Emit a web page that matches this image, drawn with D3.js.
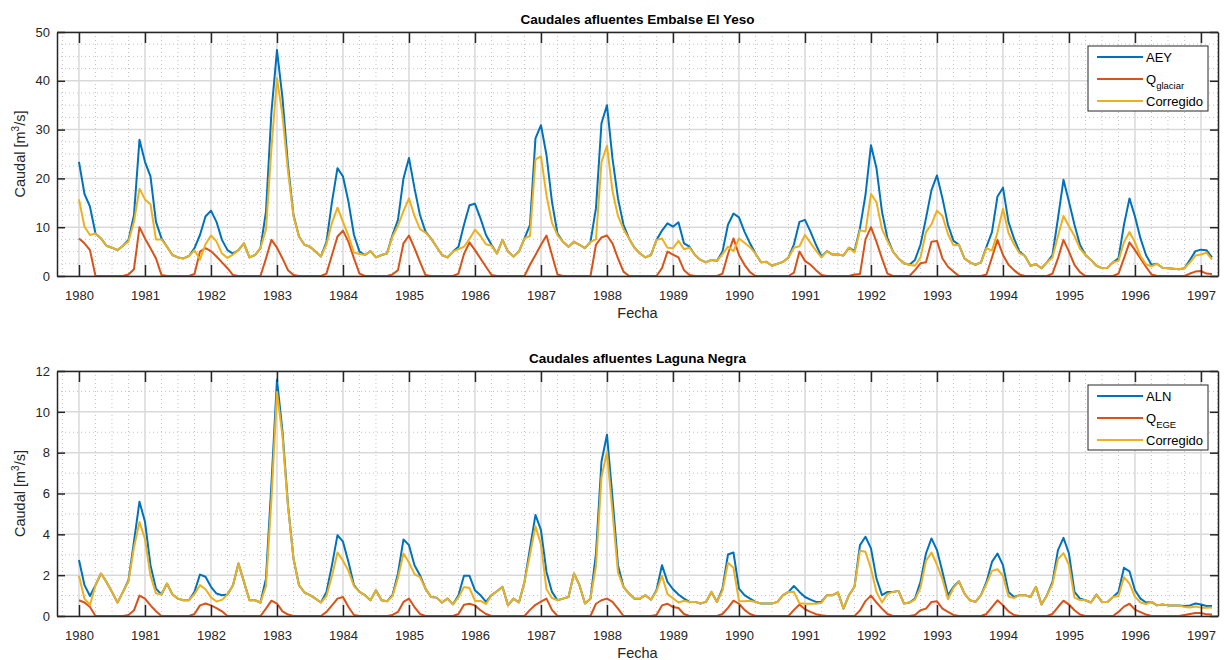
<!DOCTYPE html>
<html lang="es">
<head>
<meta charset="UTF-8">
<title>Caudales afluentes</title>
<script src="https://cdn.jsdelivr.net/npm/d3@7"></script>
<style>
  * { margin: 0; padding: 0; }
  body { background: #fff; }
  text { font-family: "Liberation Sans", Arial, Helvetica, sans-serif; }
</style>
</head>
<body>
<script>
// monthly series, Jan 1980 .. Mar 1997
const startYear = 1980;
const yearTicks = d3.range(1980, 1998);

const aey = [
  23.4,16.8,14.2,8.7,7.7,6.2,5.8,5.3,6.2,7.4,12.5,27.9,
  23.4,20.4,11.1,7.7,6.0,4.3,3.8,3.6,4.1,5.7,8.4,12.2,
  13.4,11.1,7.4,5.3,4.6,5.3,6.7,3.8,4.3,5.7,13.2,33.7,
  46.3,36.5,22.7,12.5,8.1,6.4,6.0,5.0,4.0,7.0,15.2,22.1,
  20.4,15.2,8.4,5.0,4.3,5.1,3.8,4.3,4.6,8.4,11.5,20.0,
  24.2,18.0,12.5,9.1,7.7,6.0,4.3,3.8,5.0,6.0,10.5,14.5,
  14.8,11.8,8.4,6.4,4.6,7.4,5.0,4.0,5.0,7.7,10.5,28.2,
  30.9,24.8,15.2,8.7,7.0,6.0,7.0,6.4,5.7,7.0,13.9,31.3,
  35.0,24.1,15.9,10.5,7.7,5.8,4.6,3.8,4.3,7.4,9.3,10.8,
  10.1,11.0,6.7,6.0,4.3,3.3,2.8,3.3,3.1,5.0,10.5,12.8,
  12.0,9.1,6.7,4.6,2.8,2.9,2.1,2.5,2.9,3.8,6.5,11.1,
  11.5,9.1,6.4,4.0,5.1,4.4,4.4,4.2,5.8,5.1,9.8,16.6,
  26.8,22.1,13.2,7.7,5.0,3.6,2.6,2.3,3.3,6.4,11.8,17.6,
  20.6,15.9,10.5,7.2,6.4,3.6,2.8,2.3,2.8,6.0,9.0,16.3,
  18.1,11.1,7.7,5.0,4.1,2.1,2.4,1.6,2.8,4.3,11.8,19.7,
  15.2,10.5,6.4,4.3,3.3,2.1,1.6,1.7,2.8,3.6,10.5,15.9,
  12.2,7.7,4.3,2.3,2.5,1.7,1.6,1.5,1.4,1.6,3.3,5.1,
  5.4,5.3,3.8
];
const qGlaciar = [
  7.7,6.7,5.3,0,0,0,0,0,0,0.3,1.4,10.0,
  7.7,5.7,3.6,0.2,0,0,0,0,0,0.4,5.0,5.7,
  5.1,4.0,2.8,1.6,0.2,0,0,0,0,0,3.6,7.4,
  5.8,3.6,1.2,0.2,0,0,0,0,0,0.5,4.3,8.1,
  9.3,7.0,3.6,0.5,0,0,0,0,0,0.3,1.2,6.7,
  8.3,5.7,2.9,0.2,0,0,0,0,0,0.5,4.5,6.9,
  5.3,3.6,1.9,0.2,0,0,0,0,0,0,2.3,4.3,
  6.4,8.3,4.3,0.3,0,0,0,0,0,0,6.4,7.9,
  8.3,6.7,3.6,0.9,0,0,0,0,0,0,1.6,5.0,
  4.4,3.8,1.2,0.2,0,0,0,0,0,0.5,4.5,7.7,
  4.3,2.3,0.8,0,0,0,0,0,0,0,0.7,5.0,
  3.1,2.3,1.2,0.2,0,0,0,0,0,0.3,0.4,7.5,
  10.0,7.0,3.6,0.5,0,0,0,0,1.2,2.6,2.8,7.0,
  7.2,3.6,1.9,0.9,0,0,0,0,0,0.3,3.8,7.4,
  4.3,2.3,1.2,0.3,0,0,0,0,0,0.5,3.6,7.4,
  5.0,2.3,0.8,0,0,0,0,0,0,0.5,3.6,6.9,
  5.3,3.6,1.9,0.3,0,0,0,0,0,0,0.5,0.9,
  1.0,0.5,0.4
];
const corrYeso = [
  15.7,10.1,8.4,8.7,7.7,6.2,5.8,5.3,6.2,7.1,11.1,17.9,
  15.7,14.7,7.5,7.5,6.0,4.3,3.8,3.6,4.1,5.3,3.4,6.5,
  8.3,7.1,4.6,3.7,4.4,5.3,6.7,3.8,4.3,5.7,9.6,26.3,
  40.5,32.9,21.5,12.3,8.1,6.4,6.0,5.0,4.0,6.5,10.9,14.0,
  11.1,8.2,4.8,4.5,4.3,5.1,3.8,4.3,4.6,8.1,10.3,13.3,
  15.9,12.3,9.6,8.9,7.7,6.0,4.3,3.8,5.0,5.5,6.0,7.6,
  9.5,8.2,6.5,6.2,4.6,7.4,5.0,4.0,5.0,7.7,8.2,23.9,
  24.5,16.5,10.9,8.4,7.0,6.0,7.0,6.4,5.7,7.0,7.5,23.4,
  26.7,17.4,12.3,9.6,7.7,5.8,4.6,3.8,4.3,7.4,7.7,5.8,
  5.7,7.2,5.5,5.8,4.3,3.3,2.8,3.3,3.1,4.5,6.0,5.1,
  7.7,6.8,5.9,4.6,2.8,2.9,2.1,2.5,2.9,3.8,5.8,6.1,
  8.4,6.8,5.2,3.8,5.1,4.4,4.4,4.2,5.8,4.8,9.4,9.1,
  16.8,15.1,9.6,7.2,5.0,3.6,2.6,2.3,2.1,3.8,9.0,10.6,
  13.4,12.3,8.6,6.3,6.4,3.6,2.8,2.3,2.8,5.7,5.2,8.9,
  13.8,8.8,6.5,4.7,4.1,2.1,2.4,1.6,2.8,3.8,8.2,12.3,
  10.2,8.2,5.6,4.3,3.3,2.1,1.6,1.7,2.8,3.1,6.9,9.0,
  6.9,4.1,2.4,2.0,2.5,1.7,1.6,1.5,1.4,1.6,2.8,4.2,
  4.4,4.8,3.4
];

const aln = [
  2.74,1.51,0.98,1.51,2.08,1.67,1.18,0.66,1.18,1.75,3.64,5.60,
  4.62,2.49,1.34,1.05,1.59,1.05,0.85,0.77,0.77,1.18,2.03,1.92,
  1.43,1.10,1.02,1.05,1.51,2.57,1.67,0.77,0.77,0.66,1.83,6.50,
  11.58,9.04,5.44,2.82,1.51,1.15,1.02,0.85,0.66,1.18,2.49,3.96,
  3.64,2.65,1.51,1.18,1.02,0.77,1.26,0.77,0.72,1.02,2.08,3.75,
  3.47,2.49,2.00,1.34,0.93,0.90,0.66,0.85,0.57,1.02,1.97,1.97,
  1.26,1.02,0.69,1.02,1.21,1.43,0.52,0.85,0.66,1.67,3.31,4.95,
  4.21,2.16,1.18,0.77,0.85,0.93,2.08,1.51,0.61,0.85,3.06,7.57,
  8.88,5.80,2.49,1.43,1.10,0.85,0.85,1.02,0.80,1.26,2.49,1.67,
  1.31,1.05,0.85,0.69,0.69,0.61,0.69,1.18,0.69,1.34,3.01,3.11,
  1.34,1.02,0.85,0.69,0.61,0.61,0.61,0.69,1.02,1.18,1.47,1.18,
  0.93,0.80,0.69,0.69,1.02,1.02,1.15,0.36,1.02,1.43,3.47,3.88,
  3.31,1.83,1.02,1.18,1.18,1.23,0.61,0.66,0.85,1.67,3.06,3.80,
  3.23,2.16,1.02,1.43,1.70,1.10,0.77,0.69,1.02,1.67,2.65,3.06,
  2.49,1.18,0.93,1.02,1.02,0.93,1.43,0.56,1.02,1.67,3.23,3.83,
  3.06,1.18,0.85,0.77,0.66,1.05,0.69,0.69,0.93,1.18,2.36,2.19,
  1.26,0.85,0.66,0.69,0.52,0.56,0.52,0.52,0.52,0.49,0.52,0.61,
  0.56,0.49,0.49
];
const qEge = [
  0.77,0.66,0.44,0,0,0,0,0,0,0.05,0.28,1.00,
  0.85,0.52,0.23,0,0,0,0,0,0,0.10,0.52,0.61,
  0.52,0.39,0.23,0,0,0,0,0,0,0,0.36,0.75,
  0.61,0.23,0.07,0,0,0,0,0,0,0.20,0.52,0.85,
  0.93,0.44,0.05,0,0,0,0,0,0,0.05,0.20,0.69,
  0.85,0.44,0.10,0,0,0,0,0,0,0.10,0.55,0.60,
  0.52,0.28,0.10,0,0,0,0,0,0,0,0.30,0.55,
  0.70,0.85,0.30,0,0,0,0,0,0,0,0.60,0.77,
  0.85,0.69,0.36,0,0,0,0,0,0,0.05,0.52,0.60,
  0.44,0.39,0.10,0,0,0,0,0,0,0.10,0.40,0.75,
  0.60,0.30,0.10,0,0,0,0,0,0,0,0.30,0.56,
  0.33,0.20,0.09,0.04,0,0,0,0,0,0,0.27,0.73,
  1.00,0.66,0.36,0.10,0,0,0,0,0.05,0.28,0.36,0.69,
  0.72,0.36,0.20,0.05,0,0,0,0,0,0.10,0.44,0.77,
  0.52,0.23,0.05,0,0,0,0,0,0,0.10,0.44,0.75,
  0.56,0.28,0.07,0,0,0,0,0,0,0.20,0.46,0.60,
  0.31,0.19,0.07,0,0,0,0,0,0,0.05,0.10,0.15,
  0.15,0.08,0.07
];
const corrNegra = [
  1.97,0.85,0.54,1.51,2.08,1.67,1.18,0.66,1.18,1.70,3.36,4.60,
  3.77,1.97,1.11,1.05,1.59,1.05,0.85,0.77,0.77,1.08,1.51,1.31,
  0.91,0.71,0.79,1.05,1.51,2.57,1.67,0.77,0.77,0.66,1.47,5.75,
  10.97,8.81,5.37,2.82,1.51,1.15,1.02,0.85,0.66,0.98,1.97,3.11,
  2.71,2.21,1.46,1.18,1.02,0.77,1.26,0.77,0.72,0.97,1.88,3.06,
  2.62,2.05,1.90,1.34,0.93,0.90,0.66,0.85,0.57,0.92,1.42,1.37,
  0.74,0.74,0.59,1.02,1.21,1.43,0.52,0.85,0.66,1.67,3.01,4.40,
  3.51,1.31,0.88,0.77,0.85,0.93,2.08,1.51,0.61,0.85,2.46,6.80,
  8.03,5.11,2.13,1.43,1.10,0.85,0.85,1.02,0.80,1.21,1.97,1.07,
  0.87,0.66,0.75,0.69,0.69,0.61,0.69,1.18,0.69,1.24,2.61,2.36,
  0.74,0.72,0.75,0.69,0.61,0.61,0.61,0.69,1.02,1.18,1.17,0.62,
  0.60,0.60,0.60,0.65,1.02,1.02,1.15,0.36,1.02,1.43,3.20,3.15,
  2.31,1.17,0.66,1.08,1.18,1.23,0.61,0.66,0.80,1.39,2.70,3.11,
  2.51,1.80,0.82,1.38,1.70,1.10,0.77,0.69,1.02,1.57,2.21,2.29,
  1.97,0.95,0.88,1.02,1.02,0.93,1.43,0.56,1.02,1.57,2.79,3.08,
  2.50,0.90,0.78,0.77,0.66,1.05,0.69,0.69,0.93,0.98,1.90,1.59,
  0.95,0.66,0.59,0.69,0.52,0.56,0.52,0.52,0.52,0.44,0.42,0.46,
  0.41,0.41,0.42
];

const colors = ["#0072BD", "#D95319", "#EDB120"];
const width = 1228, height = 660;
const svg = d3.select("body").append("svg").attr("width", width).attr("height", height);

const x = d3.scaleLinear().domain([1979.667, 1997.258]).range([57, 1218]);
const monthT = (i) => startYear + i / 12;

function drawPanel(cfg) {
  const y = d3.scaleLinear().domain([0, cfg.ymax]).range([cfg.bottom, cfg.top]);
  const g = svg.append("g");
  const [x0, x1] = x.range();

  // minor grid
  const xMinor = d3.range(1979.75, 1997.26, 0.25).filter(v => Math.abs(v - Math.round(v)) > 0.01);
  const yMinor = d3.range(0, cfg.ymax + 0.001, cfg.yminor).filter(v => Math.abs(v / cfg.ystep - Math.round(v / cfg.ystep)) > 0.01);
  g.selectAll(".xm").data(xMinor).join("line")
    .attr("x1", d => x(d)).attr("x2", d => x(d)).attr("y1", cfg.top).attr("y2", cfg.bottom)
    .attr("stroke", "#bdbdbd").attr("stroke-width", 0.9).attr("stroke-dasharray", "1,3");
  g.selectAll(".ym").data(yMinor).join("line")
    .attr("x1", x0).attr("x2", x1).attr("y1", d => y(d)).attr("y2", d => y(d))
    .attr("stroke", "#bdbdbd").attr("stroke-width", 0.9).attr("stroke-dasharray", "1,3");

  // major grid
  const yTicks = d3.range(0, cfg.ymax + 0.001, cfg.ystep);
  g.selectAll(".xg").data(yearTicks).join("line")
    .attr("x1", d => x(d)).attr("x2", d => x(d)).attr("y1", cfg.top).attr("y2", cfg.bottom)
    .attr("stroke", "#d9d9d9").attr("stroke-width", 1.5);
  g.selectAll(".yg").data(yTicks).join("line")
    .attr("x1", x0).attr("x2", x1).attr("y1", d => y(d)).attr("y2", d => y(d))
    .attr("stroke", "#d9d9d9").attr("stroke-width", 1.5);

  // series
  const line = d3.line().x((d, i) => x(monthT(i))).y(d => y(d));
  cfg.series.forEach((s, k) => {
    g.append("path").datum(s).attr("d", line)
      .attr("fill", "none").attr("stroke", colors[k]).attr("stroke-width", 2)
      .attr("stroke-linejoin", "round");
  });

  // axes (ticks inside, box on)
  const axB = g.append("g").attr("transform", `translate(0,${cfg.bottom})`)
    .call(d3.axisBottom(x).tickValues(yearTicks).tickFormat(d3.format("d")).tickSizeInner(-11).tickSizeOuter(0).tickPadding(15));
  const axT = g.append("g").attr("transform", `translate(0,${cfg.top})`)
    .call(d3.axisTop(x).tickValues(yearTicks).tickFormat("").tickSizeInner(-11).tickSizeOuter(0));
  const axL = g.append("g").attr("transform", `translate(${x0},0)`)
    .call(d3.axisLeft(y).tickValues(yTicks).tickFormat(d3.format("d")).tickSizeInner(-8).tickSizeOuter(0).tickPadding(7));
  const axR = g.append("g").attr("transform", `translate(${x1},0)`)
    .call(d3.axisRight(y).tickValues(yTicks).tickFormat("").tickSizeInner(-8).tickSizeOuter(0));
  [axB, axT, axL, axR].forEach(a => {
    a.select(".domain").attr("stroke", "#262626").attr("stroke-width", 1.5);
    a.selectAll(".tick line").attr("stroke", "#262626").attr("stroke-width", 1.5);
    a.selectAll("text").attr("fill", "#262626").style("font-size", "13px")
      .style("font-family", '"Liberation Sans", Arial, sans-serif');
  });

  // title and labels
  svg.append("text").attr("x", (x0 + x1) / 2).attr("y", cfg.top - 8)
    .attr("text-anchor", "middle").attr("font-weight", "bold").attr("font-size", 13.5)
    .attr("fill", "#000").text(cfg.title);
  svg.append("text").attr("x", (x0 + x1) / 2).attr("y", cfg.bottom + 42)
    .attr("text-anchor", "middle").attr("font-size", 14.5).attr("fill", "#262626").text("Fecha");
  const yl = svg.append("text")
    .attr("transform", `translate(25,${(cfg.top + cfg.bottom) / 2}) rotate(-90)`)
    .attr("text-anchor", "middle").attr("font-size", 14.5).attr("fill", "#262626");
  yl.append("tspan").text("Caudal [m");
  yl.append("tspan").attr("font-size", 10).attr("dy", -6).text("3");
  yl.append("tspan").attr("dy", 6).text("/s]");

  // legend
  const lg = svg.append("g").attr("transform", `translate(1088,${cfg.top + 14})`);
  lg.append("rect").attr("width", 120).attr("height", 65)
    .attr("fill", "#fff").attr("stroke", "#262626").attr("stroke-width", 1);
  cfg.legend.forEach((lab, k) => {
    const yy = 11 + k * 22;
    lg.append("line").attr("x1", 9).attr("x2", 55).attr("y1", yy).attr("y2", yy)
      .attr("stroke", colors[k]).attr("stroke-width", 2);
    const t = lg.append("text").attr("x", 58).attr("y", yy + 5)
      .attr("font-size", 13).attr("fill", "#000");
    t.append("tspan").text(lab[0]);
    if (lab[1]) t.append("tspan").attr("font-size", 9.5).attr("dy", 5).text(lab[1]);
  });
}

drawPanel({
  top: 32, bottom: 276, ymax: 50, ystep: 10, yminor: 2.5,
  title: "Caudales afluentes Embalse El Yeso",
  series: [aey, qGlaciar, corrYeso],
  legend: [["AEY"], ["Q", "glaciar"], ["Corregido"]]
});
drawPanel({
  top: 371, bottom: 616, ymax: 12, ystep: 2, yminor: 1,
  title: "Caudales afluentes Laguna Negra",
  series: [aln, qEge, corrNegra],
  legend: [["ALN"], ["Q", "EGE"], ["Corregido"]]
});
</script>
</body>
</html>
